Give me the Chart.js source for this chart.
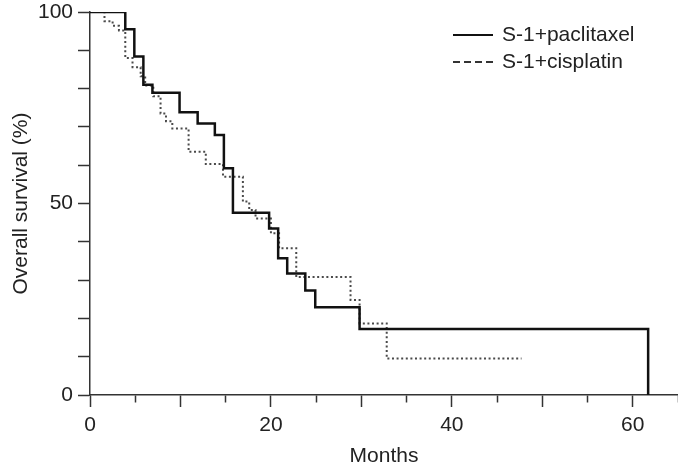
<!DOCTYPE html>
<html>
<head>
<meta charset="utf-8">
<script src="https://cdn.jsdelivr.net/npm/chart.js@4.4.1/dist/chart.umd.min.js"></script>
<style>
    html, body { margin: 0; padding: 0; background: #fff; }
    #wrap { width: 678px; height: 470px; }
</style>
</head>
<body>
<div id="wrap"><canvas id="survivalChart"></canvas></div>
<script>
// Kaplan-Meier steps (month of event, survival % after it)
const paclitaxelMonths = [0, 3.9, 4.9, 5.9, 6.9, 9.9, 11.9, 13.8, 14.8, 15.8, 19.8, 20.8, 21.8, 23.8, 24.9, 29.8, 61.7];
const paclitaxelSurvival = [100, 95.5, 88.4, 81.0, 78.9, 73.8, 70.9, 67.9, 59.2, 47.6, 43.5, 35.7, 31.7, 27.3, 22.9, 17.2, 0];

const cisplatinMonths = [0, 1.6, 2.5, 3.2, 3.9, 4.7, 5.6, 6.1, 7.0, 7.8, 8.4, 9.1, 10.9, 12.8, 14.7, 16.9, 17.6, 18.3, 20.0, 20.9, 22.8, 28.8, 29.8, 32.8, 47.7];
const cisplatinSurvival = [100, 97.6, 96.4, 95.2, 88.0, 85.6, 83.2, 80.8, 78.0, 73.5, 71.5, 69.6, 63.5, 60.3, 57.0, 50.5, 48.3, 46.1, 42.2, 38.3, 30.8, 24.8, 18.7, 9.5, 9.5];

const seriesLabels = ["S-1+paclitaxel", "S-1+cisplatin"];
const xTickLabels = [0, 20, 40, 60];
const yTickLabels = [0, 50, 100];

const fontFamily = "'Liberation Sans', Arial, Helvetica, sans-serif";
const axisColor = "#333";
const textColor = "#222";

function toPoints(months, values) {
    return months.map((m, i) => ({ x: m, y: values[i] }));
}

// legend drawn inside the plot, top right, like the original figure
const insideLegend = {
    id: "insideLegend",
    afterDatasetsDraw(chart) {
        const ctx = chart.ctx;
        const area = chart.chartArea;
        const x0 = area.right - 225;
        ctx.save();
        ctx.font = "21px " + fontFamily;
        ctx.textBaseline = "middle";
        ctx.fillStyle = textColor;
        chart.data.datasets.forEach(function(ds, i) {
            const y = area.top + 23 + i * 27;
            ctx.beginPath();
            ctx.setLineDash(ds.legendDash || []);
            ctx.strokeStyle = ds.legendColor || ds.borderColor;
            ctx.lineWidth = 2;
            ctx.moveTo(x0, y);
            ctx.lineTo(x0 + 40, y);
            ctx.stroke();
            ctx.setLineDash([]);
            ctx.fillText(ds.label, x0 + 49, y);
        });
        ctx.restore();
    }
};

const ctx = document.getElementById("survivalChart").getContext("2d");

new Chart(ctx, {
    type: "line",
    data: {
        datasets: [{
            label: seriesLabels[0],
            data: toPoints(paclitaxelMonths, paclitaxelSurvival),
            borderColor: "#111",
            borderWidth: 2.5,
            stepped: true,
            pointRadius: 0,
            fill: false
        }, {
            label: seriesLabels[1],
            data: toPoints(cisplatinMonths, cisplatinSurvival),
            borderColor: "#4a4a4a",
            borderWidth: 2,
            borderDash: [2, 2.6],
            legendDash: [7, 4],
            legendColor: "#333",
            stepped: true,
            pointRadius: 0,
            fill: false
        }]
    },
    options: {
        responsive: true,
        maintainAspectRatio: false,
        animation: false,
        layout: { padding: { top: 12, right: 0, left: 0, bottom: 0 } },
        plugins: {
            legend: { display: false },
            tooltip: { enabled: false }
        },
        scales: {
            x: {
                type: "linear",
                min: 0,
                max: 65,
                border: { color: axisColor, width: 1.5 },
                grid: {
                    drawOnChartArea: false,
                    drawTicks: true,
                    tickLength: 12,
                    tickColor: axisColor,
                    tickWidth: 1.5,
                    // half-way ticks are shorter
                    tickBorderDash: function(c) {
                        return c.tick && c.tick.value % 10 !== 0 ? [7, 60] : [];
                    }
                },
                ticks: {
                    stepSize: 5,
                    padding: 6,
                    color: textColor,
                    font: { family: fontFamily, size: 21 },
                    maxRotation: 0,
                    autoSkip: false,
                    callback: function(v) {
                        return xTickLabels.includes(v) ? String(v) : "";
                    }
                },
                title: {
                    display: true,
                    text: "Months",
                    color: textColor,
                    font: { family: fontFamily, size: 21 },
                    padding: { top: 0, bottom: 1 }
                },
                afterFit: function(scale) {
                    scale.height = 75;
                    scale.paddingLeft = 0;
                    scale.paddingRight = 0;
                }
            },
            y: {
                min: 0,
                max: 100,
                border: { color: axisColor, width: 1.5 },
                grid: {
                    drawOnChartArea: false,
                    drawTicks: true,
                    tickLength: 12,
                    tickColor: axisColor,
                    tickWidth: 1.5
                },
                ticks: {
                    stepSize: 10,
                    padding: 5,
                    color: textColor,
                    font: { family: fontFamily, size: 21 },
                    autoSkip: false,
                    callback: function(v) {
                        return yTickLabels.includes(v) ? String(v) : "";
                    }
                },
                title: {
                    display: true,
                    text: "Overall survival (%)",
                    color: textColor,
                    font: { family: fontFamily, size: 21 },
                    padding: { top: 9, bottom: 0 }
                },
                afterFit: function(scale) {
                    scale.width = 90;
                    scale.paddingTop = 0;
                    scale.paddingBottom = 0;
                }
            }
        }
    },
    plugins: [insideLegend]
});
</script>
</body>
</html>
